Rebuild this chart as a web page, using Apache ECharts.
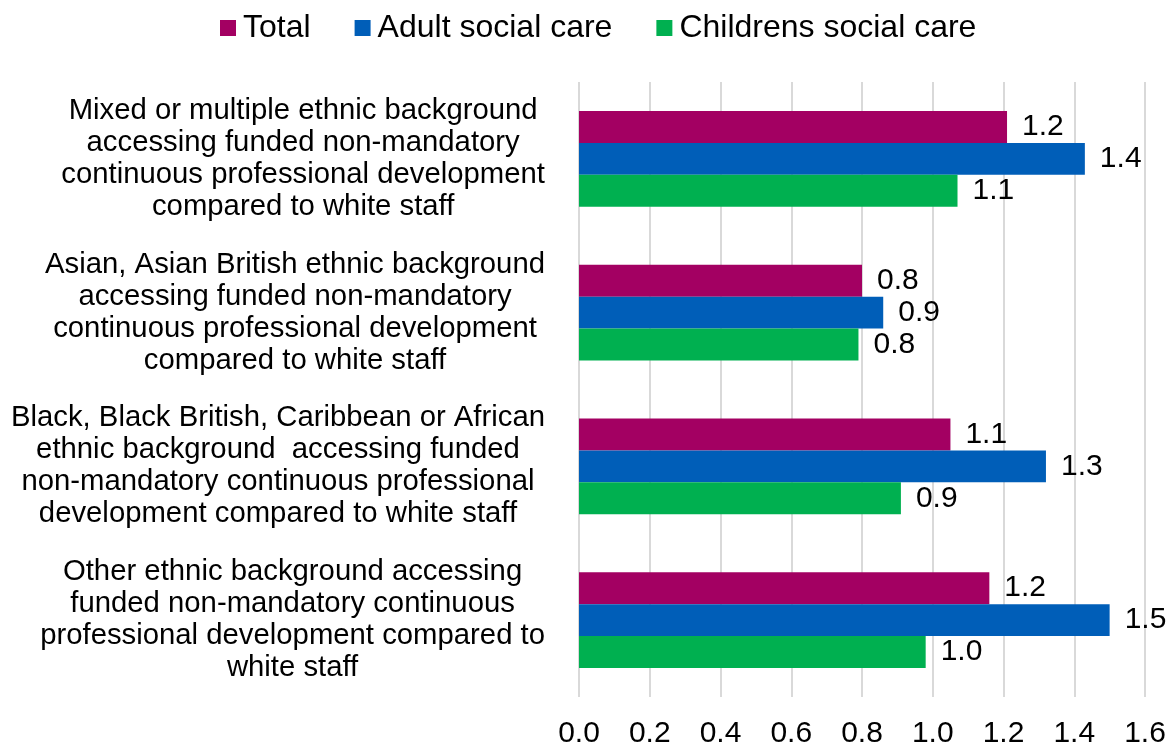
<!DOCTYPE html>
<html>
<head>
<meta charset="utf-8">
<title>Funded CPD access by ethnic background</title>
<script src="https://cdn.jsdelivr.net/npm/echarts@6/dist/echarts.min.js"></script>
<style>
  html, body { margin: 0; padding: 0; background: #ffffff; }
  #chart { width: 1173px; height: 749px; }
</style>
</head>
<body>
<div id="chart"></div>
<script>
// Category labels, one entry per line of the wrapped text
const categories = [
  ['Mixed or multiple ethnic background', 'accessing funded non-mandatory', 'continuous professional development', 'compared to white staff'],
  ['Asian, Asian British ethnic background', 'accessing funded non-mandatory', 'continuous professional development', 'compared to white staff'],
  ['Black, Black British, Caribbean or African', 'ethnic background  accessing funded', 'non-mandatory continuous professional', 'development compared to white staff'],
  ['Other ethnic background accessing', 'funded non-mandatory continuous', 'professional development compared to', 'white staff']
];

const seriesNames = ['Total', 'Adult social care', 'Childrens social care'];

// Ratios relative to white staff
const totalValues = [1.21, 0.80, 1.05, 1.16];
const adultValues = [1.43, 0.86, 1.32, 1.50];
const childrenValues = [1.07, 0.79, 0.91, 0.98];

const xTicks = { min: 0, max: 1.6, interval: 0.2 };

const colors = ['#A30062', '#005EB8', '#00B050'];
const FONT = '"Liberation Sans", Arial, sans-serif';

const chart = echarts.init(document.getElementById('chart'), null, { renderer: 'canvas' });

const seriesValues = [totalValues, adultValues, childrenValues];

const option = {
  backgroundColor: '#ffffff',
  animation: false,
  textStyle: { fontFamily: FONT, color: '#000000' },
  legend: {
    top: 7,
    left: 215,
    itemWidth: 16,
    itemHeight: 16,
    itemGap: 44,
    icon: 'rect',
    textStyle: { fontFamily: FONT, fontSize: 32, color: '#000000', padding: [0, 0, 0, 2] },
    data: seriesNames
  },
  grid: { left: 579, right: 28, top: 82, bottom: 51, containLabel: false },
  xAxis: {
    type: 'value',
    min: xTicks.min,
    max: xTicks.max,
    interval: xTicks.interval,
    axisLine: { show: false },
    axisTick: { show: false },
    axisLabel: {
      fontFamily: FONT,
      fontSize: 30,
      color: '#000000',
      margin: 22,
      formatter: v => v.toFixed(1)
    },
    splitLine: { show: true, lineStyle: { color: '#d9d9d9', width: 2 } }
  },
  yAxis: {
    type: 'category',
    inverse: true,
    data: categories.map(lines => lines.join('\n')),
    axisLine: { show: false },
    axisTick: { show: false },
    splitLine: { show: false },
    axisLabel: {
      margin: 34,
      align: 'right',
      formatter: v => v.split('\n').map(l => '{c|' + l + '}').join('\n'),
      rich: {
        c: { align: 'center', fontFamily: FONT, fontSize: 29.3, lineHeight: 32, color: '#000000' }
      }
    }
  },
  series: seriesNames.map((name, i) => ({
    name: name,
    type: 'bar',
    data: seriesValues[i],
    barGap: '0%',
    barCategoryGap: '37.7%',
    itemStyle: { color: colors[i] },
    label: {
      show: true,
      position: 'right',
      distance: 15,
      fontFamily: FONT,
      fontSize: 30,
      color: '#000000',
      formatter: p => p.value.toFixed(1)
    }
  }))
};

chart.setOption(option);
</script>
</body>
</html>
